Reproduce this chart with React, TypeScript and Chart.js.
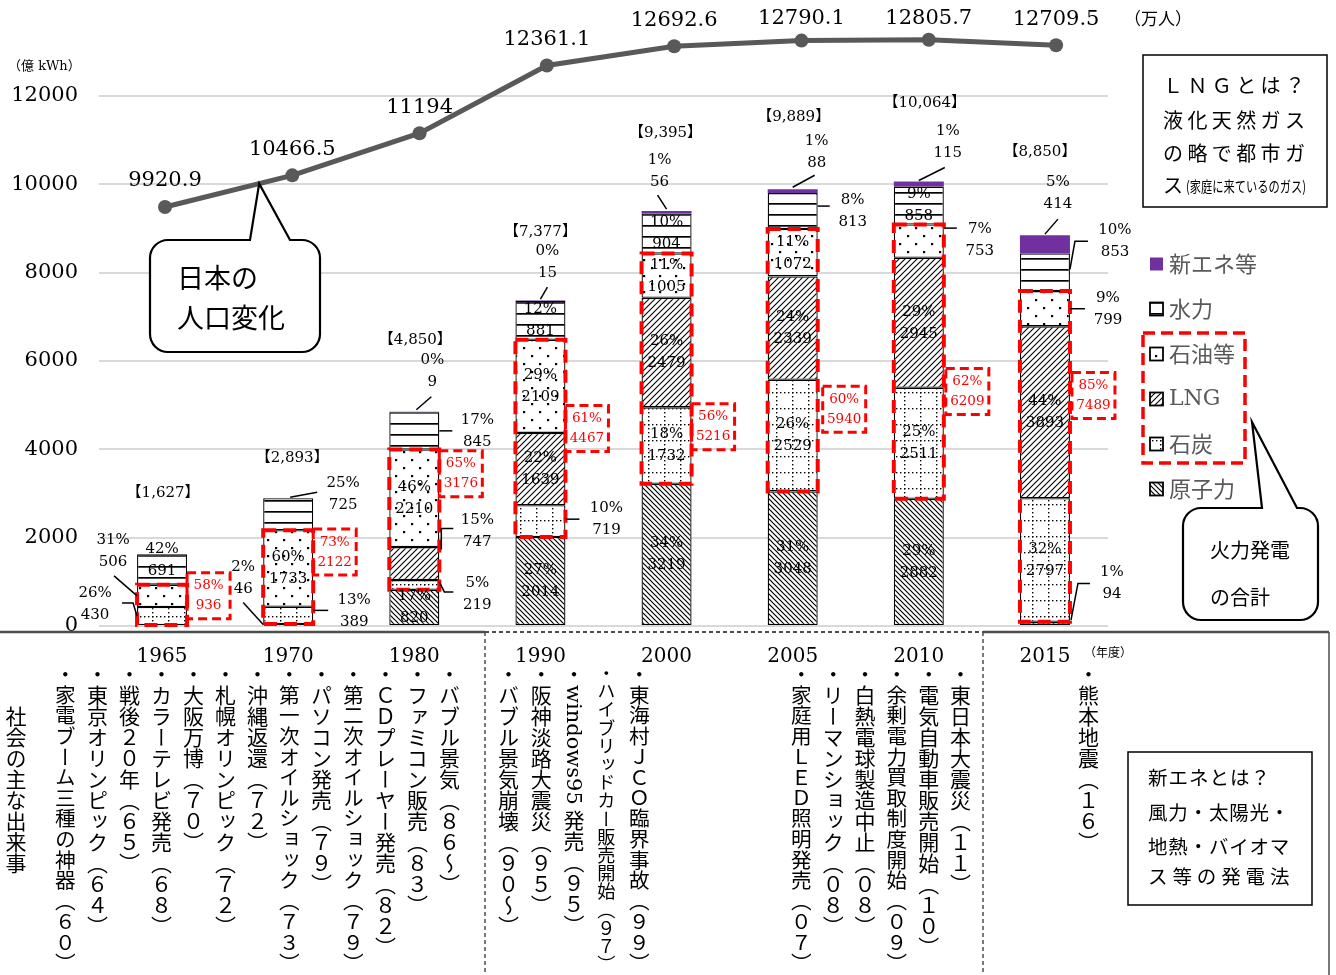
import React, { useEffect, useRef } from "react";
import { Chart, registerables } from "chart.js";

Chart.register(...registerables);

const SERIF = '"DejaVu Serif", "Noto Sans CJK JP", serif';
const JP = '"Noto Sans CJK JP", sans-serif';
const RED = "#ff0000";

// ---------------- data ----------------
const years = ["1965", "1970", "1980", "1990", "2000", "2005", "2010", "2015"];
const nuclear = [0, 46, 820, 2014, 3219, 3048, 2882, 94];
const coal = [430, 389, 219, 719, 1732, 2529, 2511, 2797];
const lng = [0, 0, 747, 1639, 2479, 2339, 2945, 3893];
const oil = [506, 1733, 2210, 2109, 1005, 1072, 753, 799];
const hydro = [691, 725, 845, 881, 904, 813, 858, 853];
const newEnergy = [0, 0, 9, 15, 56, 88, 115, 414];
const nuclearPct = [0, 2, 17, 27, 34, 31, 29, 1];
const coalPct = [26, 13, 5, 10, 18, 26, 25, 32];
const lngPct = [0, 0, 15, 22, 26, 24, 29, 44];
const oilPct = [31, 60, 46, 29, 11, 11, 7, 9];
const hydroPct = [42, 25, 17, 12, 10, 8, 9, 10];
const newPct = [0, 0, 0, 0, 1, 1, 1, 5];
const totals = [1627, 2893, 4850, 7377, 9395, 9889, 10064, 8850];
const thermalPct = [58, 73, 65, 61, 56, 60, 62, 85];
const thermalTotal = [936, 2122, 3176, 4467, 5216, 5940, 6209, 7489];
const population = [9920.9, 10466.5, 11194, 12361.1, 12692.6, 12790.1, 12805.7, 12709.5];
const seriesNames = ["原子力", "石炭", "LNG", "石油等", "水力", "新エネ等"];

const eventsEarly = [
  "家電ブーム三種の神器（６０）",
  "東京オリンピック（６４）",
  "戦後２０年（６５）",
  "カラーテレビ発売（６８）",
  "大阪万博（７０）",
  "札幌オリンピック（７２）",
  "沖縄返還（７２）",
  "第一次オイルショック（７３）",
  "パソコン発売（７９）",
  "第二次オイルショック（７９）",
  "ＣＤプレーヤー発売（８２）",
  "ファミコン販売（８３）",
  "バブル景気（８６～）",
];
const events1990s = [
  "バブル景気崩壊（９０～）",
  "阪神淡路大震災（９５）",
  "windows95 発売（９５）",
  "ハイブリッドカー販売開始（９７）",
  "東海村ＪＣＯ臨界事故（９９）",
];
const events2000s = [
  "家庭用ＬＥＤ照明発売（０７）",
  "リーマンショック（０８）",
  "白熱電球製造中止（０８）",
  "余剰電力買取制度開始（０９）",
  "電気自動車販売開始（１０）",
  "東日本大震災（１１）",
];
const events2010s = ["熊本地震（１６）"];

// ---------------- layout (annotation placement, not data) ----------------
type Spec = { a: "I" | "L" | "R" | "T"; dx?: number; dy?: number; lead?: number[][] } | null;
const I: Spec = { a: "I" };
const T = (dx: number, dy: number, lead: number[][]): Spec => ({ a: "T", dx, dy, lead });
const labelLayout: Spec[][] = [
  // nuclear
  [null, { a: "L", dx: -20, dy: -46, lead: [[0, 0], [-20, -22]] }, I, I, I, I, I,
    { a: "R", dx: 42, dy: -40, lead: [[1, -3], [8, -40], [20, -40]] }],
  // coal
  [{ a: "L", dx: -42, dy: -12, lead: [[0, 0], [-4, -13], [-15, -13]] },
    { a: "R", dx: 41, dy: -4, lead: [[0, -5], [15, -5]] },
    { a: "R", dx: 38, dy: 9, lead: [[0, -3], [5, 7], [14, 7]] },
    { a: "R", dx: 41, dy: -2, lead: [[0, -2], [14, -2]] }, I, I, I, I],
  // LNG
  [null, null, { a: "R", dx: 38, dy: -33, lead: [[2, -14], [2, -35], [14, -35]] }, I, I, I, I, I],
  // oil
  [{ a: "L", dx: -24, dy: -45, lead: [[0, 0], [-23, -20]] }, I, I, I, I, I,
    { a: "R", dx: 36, dy: -1, lead: [[0, -13], [13, -13]] },
    { a: "R", dx: 38, dy: 0, lead: [[0, 0], [15, 0]] }],
  // hydro
  [{ a: "I", dy: -9 }, T(55, -4, [[2, -1], [29, -6]]),
    { a: "R", dx: 38, dy: 0, lead: [[0, 0], [13, 0]] }, I, I,
    { a: "R", dx: 35, dy: 0, lead: [[0, -5], [12, -5]] }, I,
    { a: "R", dx: 45, dy: -31, lead: [[0, -3], [5, -31], [18, -31]] }],
  // new energy
  [null, null, T(18, -41, [[2, -2], [17, -15]]), T(7, -38, [[0, -1], [7, -13]]),
    T(-7, -40, [[0, -2], [-9, -16]]), T(24, -37, [[0, -2], [22, -14]]),
    T(29, -39, [[0, -1], [26, -14]]), T(13, -42, [[0, -1], [13, -16]])],
];
const totalDx = [1, 4, 1, 0, -1, 1, 6, -5];
const totalDy = [-61, -40, -72, -68, -78, -72, -78, -83];
const thermalShift = [-9, -25, -46, -10, 58, 49, 30, -61];
const thermalBoxDx = [0, 0, 0, 0, 0, 5, 2, 2];

function makePatterns(ctx: CanvasRenderingContext2D) {
  const mk = (w: number, h: number, draw: (g: CanvasRenderingContext2D) => void) => {
    const c = document.createElement("canvas");
    c.width = w;
    c.height = h;
    const g = c.getContext("2d")!;
    g.fillStyle = "#fff";
    g.fillRect(0, 0, w, h);
    g.fillStyle = "#000";
    g.strokeStyle = "#000";
    draw(g);
    return ctx.createPattern(c, "repeat")!;
  };
  const nuc = mk(5, 5, (g) => {
    g.lineWidth = 1.2;
    g.beginPath();
    g.moveTo(-1, -1); g.lineTo(6, 6);
    g.moveTo(-1, 4); g.lineTo(1, 6);
    g.moveTo(4, -1); g.lineTo(6, 1);
    g.stroke();
  });
  const lngP = mk(6, 6, (g) => {
    g.lineWidth = 1.1;
    g.beginPath();
    g.moveTo(-1, 7); g.lineTo(7, -1);
    g.moveTo(-1, 1); g.lineTo(1, -1);
    g.moveTo(5, 7); g.lineTo(7, 5);
    g.stroke();
  });
  const coalP = mk(16, 16, (g) => {
    for (let k = 0; k < 16; k += 4) {
      g.fillRect(k, 8, 1.4, 1.4);
      g.fillRect(8, k, 1.4, 1.4);
    }
  });
  const oilP = mk(16, 16, (g) => {
    g.fillRect(3, 3, 2.2, 2.2);
    g.fillRect(11, 11, 2.2, 2.2);
  });
  const hydroP = mk(8, 11, (g) => {
    g.fillRect(0, 5, 8, 1.7);
  });
  return [nuc, coalP, lngP, oilP, hydroP, "#7030A0"];
}

function twoLine(ctx: CanvasRenderingContext2D, x: number, y: number, a: string, b: string, gap: number) {
  ctx.fillText(a, x, y - gap / 2);
  ctx.fillText(b, x, y + gap / 2);
}

function callout(ctx: CanvasRenderingContext2D, x0: number, y0: number, x1: number, y1: number, r: number,
  bx0: number, bx1: number, ax: number, ay: number) {
  ctx.beginPath();
  ctx.moveTo(x0 + r, y0);
  ctx.lineTo(bx0, y0);
  ctx.lineTo(ax, ay);
  ctx.lineTo(bx1, y0);
  ctx.lineTo(x1 - r, y0);
  ctx.arcTo(x1, y0, x1, y0 + r, r);
  ctx.lineTo(x1, y1 - r);
  ctx.arcTo(x1, y1, x1 - r, y1, r);
  ctx.lineTo(x0 + r, y1);
  ctx.arcTo(x0, y1, x0, y1 - r, r);
  ctx.lineTo(x0, y0 + r);
  ctx.arcTo(x0, y0, x0 + r, y0, r);
  ctx.closePath();
  ctx.fillStyle = "#fff";
  ctx.fill();
  ctx.lineWidth = 2.2;
  ctx.strokeStyle = "#000";
  ctx.setLineDash([]);
  ctx.stroke();
}

function spaced(ctx: CanvasRenderingContext2D, txt: string, x: number, y: number, step: number) {
  Array.from(txt).forEach((ch, k) => ctx.fillText(ch, x + k * step, y));
}

let savedArea: any = null;

const overlayPlugin = {
  id: "overlay",
  // let the population markers above the 12000 grid line be drawn by the line controller
  beforeDatasetDraw(chart: any, args: any) {
    if (args.index === 6) {
      savedArea = chart.chartArea;
      chart.chartArea = { ...savedArea, top: 0, height: savedArea.bottom };
    }
  },
  afterDatasetDraw(chart: any, args: any) {
    if (args.index === 6 && savedArea) {
      chart.chartArea = savedArea;
      savedArea = null;
    }
  },
  afterDatasetsDraw(chart: any) {
    const ctx: CanvasRenderingContext2D = chart.ctx;
    const metas = [0, 1, 2, 3, 4, 5].map((d) => chart.getDatasetMeta(d));
    const pctArr = [nuclearPct, coalPct, lngPct, oilPct, hydroPct, newPct];
    const valArr = [nuclear, coal, lng, oil, hydro, newEnergy];
    ctx.save();

    // thermal dashed rectangles
    for (let i = 0; i < years.length; i++) {
      const c = metas[1].data[i];
      const o = metas[3].data[i];
      const left = c.x - c.width / 2;
      ctx.setLineDash([13, 7]);
      ctx.lineWidth = 4;
      ctx.strokeStyle = RED;
      ctx.strokeRect(left, o.y, c.width, c.base - o.y);
    }

    // segment labels
    ctx.setLineDash([]);
    ctx.textAlign = "center";
    ctx.textBaseline = "middle";
    for (let s = 0; s < 6; s++) {
      for (let i = 0; i < years.length; i++) {
        const spec = labelLayout[s][i];
        if (!spec) continue;
        const el = metas[s].data[i];
        const left = el.x - el.width / 2;
        const right = el.x + el.width / 2;
        const cy = (el.y + el.base) / 2;
        const pct = pctArr[s][i] + "%";
        const val = String(valArr[s][i]);
        ctx.font = `15px ${SERIF}`;
        ctx.fillStyle = "#000";
        if (spec.a === "I") {
          twoLine(ctx, el.x, cy + (spec.dy || 0), pct, val, 22);
          continue;
        }
        let ax = el.x, ay = el.y;
        if (spec.a === "L") { ax = left; ay = cy; }
        else if (spec.a === "R") { ax = right; ay = cy; }
        ctx.beginPath();
        (spec.lead || []).forEach(([dx, dy], k) => {
          if (k === 0) ctx.moveTo(ax + dx, ay + dy);
          else ctx.lineTo(ax + dx, ay + dy);
        });
        ctx.lineWidth = 1.5;
        ctx.strokeStyle = "#000";
        ctx.stroke();
        twoLine(ctx, ax + (spec.dx || 0), ay + (spec.dy || 0), pct, val, 22);
      }
    }

    // thermal total boxes
    for (let i = 0; i < years.length; i++) {
      const c = metas[1].data[i];
      const o = metas[3].data[i];
      const right = c.x + c.width / 2;
      const cy = (c.base + o.y) / 2 + thermalShift[i];
      const bx = right + thermalBoxDx[i];
      const w = 43, h = 46;
      ctx.setLineDash([9, 5]);
      ctx.lineWidth = 3;
      ctx.strokeStyle = RED;
      ctx.strokeRect(bx, cy - h / 2, w, h);
      ctx.setLineDash([]);
      ctx.fillStyle = RED;
      ctx.font = `13.5px ${SERIF}`;
      twoLine(ctx, bx + w / 2, cy, thermalPct[i] + "%", String(thermalTotal[i]), 20);
    }

    // totals
    ctx.fillStyle = "#000";
    ctx.font = `15px ${SERIF}`;
    for (let i = 0; i < years.length; i++) {
      const el = metas[5].data[i];
      ctx.fillText(`【${totals[i].toLocaleString("en-US")}】`, el.x + totalDx[i], el.y + totalDy[i]);
    }

    // population labels
    const lm = chart.getDatasetMeta(6);
    ctx.font = `21px ${SERIF}`;
    lm.data.forEach((p: any, i: number) => {
      ctx.fillText(String(population[i]), p.x, Math.max(p.y - 26, 19));
    });
    ctx.restore();
  },
  afterDraw(chart: any) {
    const ctx: CanvasRenderingContext2D = chart.ctx;
    ctx.save();
    ctx.textBaseline = "middle";

    // unit labels
    ctx.fillStyle = "#000";
    ctx.textAlign = "left";
    ctx.font = `13px ${SERIF}`;
    ctx.fillText("（億 kWh）", 8, 67);
    ctx.font = `17px ${JP}`;
    ctx.fillText("（万人）", 1124, 19);
    ctx.font = `12px ${JP}`;
    ctx.fillText("（年度）", 1084, 652);

    // population callout
    const lm = chart.getDatasetMeta(6);
    const p0 = lm.data[0], p1 = lm.data[1];
    const ax = p0.x + 0.74 * (p1.x - p0.x);
    const ay = p0.y + 0.74 * (p1.y - p0.y);
    callout(ctx, 150, 240, 320, 352, 18, 250, 290, ax, ay);
    ctx.fillStyle = "#000";
    ctx.font = `27px ${JP}`;
    ctx.textAlign = "left";
    ctx.fillText("日本の", 177, 278);
    ctx.fillText("人口変化", 177, 318);

    // legend
    const pats = chart.data.datasets.slice(0, 6).map((d: any) => d.backgroundColor);
    const order = [5, 4, 3, 2, 1, 0];
    order.forEach((d, k) => {
      const y = 264 + k * 45;
      ctx.fillStyle = pats[d];
      ctx.fillRect(1150, y - 6.5, 13, 13);
      if (d !== 5) {
        ctx.lineWidth = 1.8;
        ctx.strokeStyle = "#000";
        ctx.strokeRect(1150, y - 6.5, 13, 13);
      }
      ctx.fillStyle = "#595959";
      ctx.font = d === 2 ? `22px ${SERIF}` : `22px ${JP}`;
      ctx.fillText(chart.data.datasets[d].label, 1169, y);
    });
    ctx.setLineDash([12, 6]);
    ctx.lineWidth = 3.5;
    ctx.strokeStyle = RED;
    ctx.strokeRect(1143, 333, 102, 130);
    ctx.setLineDash([]);

    // thermal callout
    callout(ctx, 1183, 508, 1318, 620, 18, 1262, 1297, 1252, 422);
    ctx.fillStyle = "#000";
    ctx.font = `20px ${JP}`;
    ctx.fillText("火力発電", 1210, 550);
    ctx.fillText("の合計", 1210, 597);

    // LNG box
    ctx.lineWidth = 1.5;
    ctx.strokeStyle = "#000";
    ctx.strokeRect(1143, 55, 184, 152);
    ctx.fillStyle = "#000";
    ctx.font = `20px ${JP}`;
    spaced(ctx, "ＬＮＧとは？", 1163, 85, 24.4);
    spaced(ctx, "液化天然ガス", 1163, 120, 24.4);
    spaced(ctx, "の略で都市ガ", 1163, 153, 24.4);
    ctx.fillText("ス", 1163, 185);
    ctx.font = `15px ${JP}`;
    const sub = "(家庭に来ているのガス)";
    const sw = ctx.measureText(sub).width;
    ctx.save();
    ctx.translate(1186, 186);
    ctx.scale(120 / sw, 1);
    ctx.fillText(sub, 0, 0);
    ctx.restore();

    // new-energy box
    ctx.strokeRect(1128, 752, 184, 153);
    ctx.font = `19.5px ${JP}`;
    spaced(ctx, "新エネとは？", 1148, 778, 20.5);
    spaced(ctx, "風力・太陽光・", 1148, 813, 20.3);
    spaced(ctx, "地熱・バイオマ", 1148, 847, 20.3);
    spaced(ctx, "ス等の発電法", 1148, 877, 24.4);

    // bottom frame
    ctx.strokeStyle = "#4d4d4d";
    ctx.lineWidth = 2.5;
    ctx.beginPath();
    ctx.moveTo(0, 632); ctx.lineTo(485, 632);
    ctx.moveTo(983, 632); ctx.lineTo(1329, 632);
    ctx.stroke();
    ctx.lineWidth = 1.5;
    ctx.beginPath();
    ctx.moveTo(1329, 632); ctx.lineTo(1329, 975);
    ctx.stroke();
    ctx.setLineDash([4, 3]);
    ctx.lineWidth = 2;
    ctx.beginPath();
    ctx.moveTo(485, 632); ctx.lineTo(983, 632);
    ctx.stroke();
    ctx.lineWidth = 1.5;
    ctx.beginPath();
    ctx.moveTo(485, 632); ctx.lineTo(485, 975);
    ctx.moveTo(983, 632); ctx.lineTo(983, 975);
    ctx.stroke();
    ctx.restore();
  },
};

const columnGroups = [
  { items: eventsEarly, x0: 65, step: 32 },
  { items: events1990s, x0: 508, step: 32.75 },
  { items: events2000s, x0: 801, step: 31.8 },
  { items: events2010s, x0: 1088, step: 0 },
];

function renderColumnText(t: string) {
  const parts = t.split(/([A-Za-z0-9]+)/);
  return parts.map((p, k) =>
    /^[A-Za-z0-9]+$/.test(p) ? (
      <span key={k} style={{ fontFamily: SERIF }}>{p}</span>
    ) : (
      <span key={k}>{p}</span>
    )
  );
}

export default function App() {
  const ref = useRef<HTMLCanvasElement>(null);

  useEffect(() => {
    const canvas = ref.current!;
    const ctx = canvas.getContext("2d")!;
    const pats = makePatterns(ctx);
    Chart.defaults.font.family = SERIF;
    const values = [nuclear, coal, lng, oil, hydro, newEnergy];
    const barSets = values.map((v, s) => ({
      type: "bar" as const,
      label: seriesNames[s],
      data: v,
      backgroundColor: pats[s],
      borderColor: "#000",
      borderWidth: s === 5 ? 0 : 1.3,
      borderSkipped: false,
      grouped: false,
      categoryPercentage: 1,
      barPercentage: 0.3965,
      xAxisID: "x",
      yAxisID: "y",
      stack: "power",
      order: 2,
    }));
    const chart = new Chart(canvas, {
      type: "bar",
      data: {
        labels: years,
        datasets: [
          ...barSets,
          {
            type: "line" as const,
            label: "人口",
            data: population.map((v, i) => ({ x: i, y: v })),
            xAxisID: "x2",
            yAxisID: "y2",
            borderColor: "#595959",
            backgroundColor: "#595959",
            borderWidth: 5,
            pointRadius: 7,
            pointBackgroundColor: "#595959",
            pointBorderWidth: 0,
            tension: 0,
            clip: false,
            order: 0,
          } as any,
        ],
      },
      options: {
        responsive: false,
        animation: false,
        layout: { padding: { left: 0, top: 96, right: 228, bottom: 0 } },
        plugins: { legend: { display: false }, tooltip: { enabled: false } },
        scales: {
          x: {
            type: "category",
            stacked: true,
            grid: { display: false, drawTicks: false },
            border: { display: false },
            ticks: { font: { family: SERIF, size: 20 }, color: "#000", padding: 19, maxRotation: 0, autoSkip: false },
            afterFit: (s: any) => { s.height = 349; },
          },
          y: {
            stacked: true,
            min: 0,
            max: 12000,
            ticks: {
              stepSize: 2000,
              font: { family: SERIF, size: 21 },
              color: "#000",
              padding: 21,
              callback: (v: any) => String(v),
            },
            grid: { color: "#d9d9d9", lineWidth: 2, drawTicks: false },
            border: { display: false },
            afterFit: (s: any) => { s.width = 99; },
          },
          x2: { type: "linear", display: false, offset: false, min: -0.5185, max: 7.408, grid: { offset: false } },
          y2: { type: "linear", display: false, offset: false, min: 2697, max: 11835 },
        },
      } as any,
      plugins: [overlayPlugin],
    });
    return () => chart.destroy();
  }, []);

  return (
    <div style={{ position: "absolute", left: 0, top: 0, width: 1336, height: 975, background: "#fff", overflow: "hidden" }}>
      <canvas ref={ref} width={1336} height={975} style={{ position: "absolute", left: 0, top: 0, width: 1336, height: 975 }} />
      <div
        style={{
          position: "absolute", left: 5, top: 706, writingMode: "vertical-rl", fontSize: 21, lineHeight: "21px",
          fontFamily: JP, color: "#000", whiteSpace: "nowrap",
        }}
      >
        社会の主な出来事
      </div>
      {columnGroups.map((g, gi) =>
        g.items.map((item, k) => {
          const t = "・" + item;
          const n = Array.from(t).reduce((acc, ch) => acc + (/[ -~]/.test(ch) ? 0.6 : 1), 0);
          const size = Math.min(21, Math.floor((310 / n) * 10) / 10);
          const x = g.x0 + g.step * k;
          return (
            <div
              key={gi + "-" + k}
              style={{
                position: "absolute", left: x - size / 2, top: 664, writingMode: "vertical-rl",
                fontSize: size, lineHeight: size + "px", fontFamily: JP, color: "#000", whiteSpace: "nowrap",
              }}
            >
              {renderColumnText(t)}
            </div>
          );
        })
      )}
    </div>
  );
}
